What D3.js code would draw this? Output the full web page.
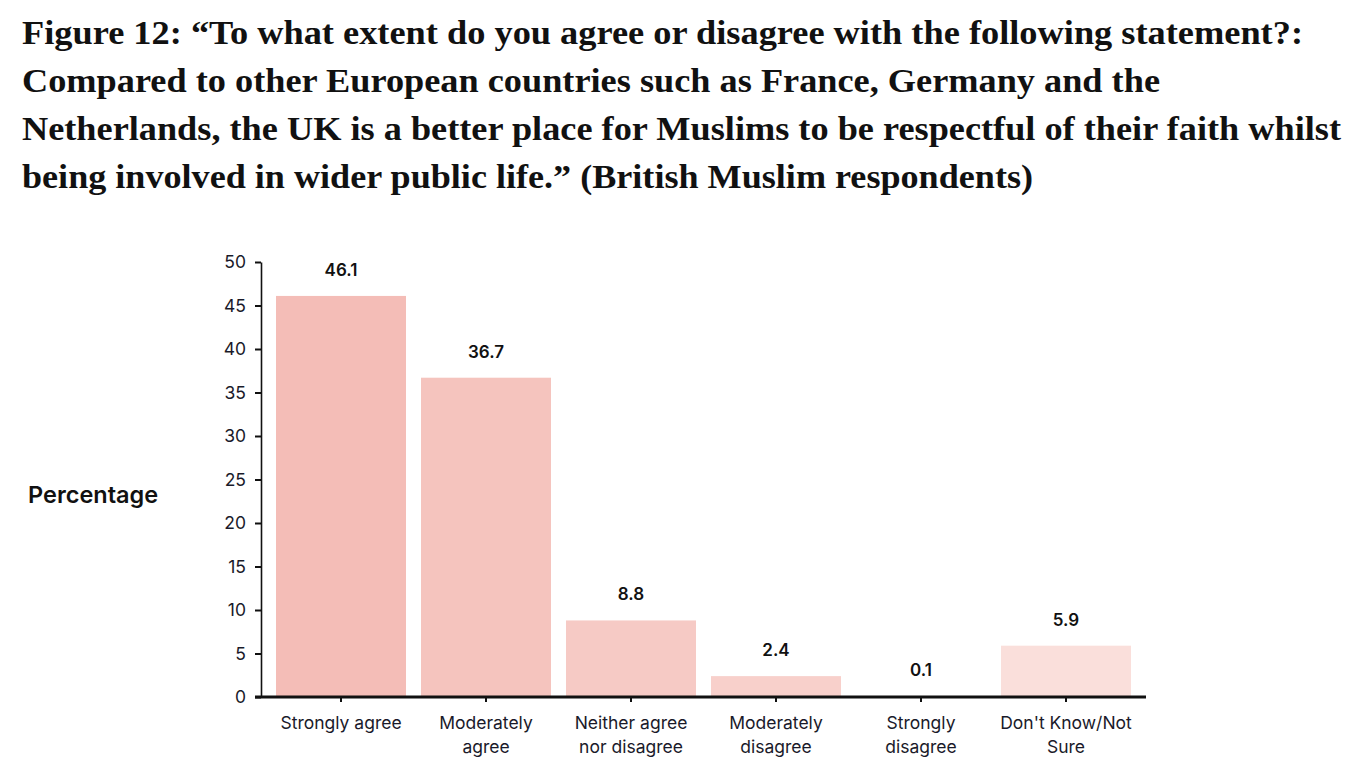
<!DOCTYPE html>
<html><head><meta charset="utf-8">
<script src="https://cdn.jsdelivr.net/npm/d3@7"></script>
<style>
html,body{margin:0;padding:0;background:#fff;}
svg{display:block;}
</style></head>
<body>
<svg id="chart" width="1364" height="768"></svg>
<script>
const titleLines = [
  "Figure 12: \u201CTo what extent do you agree or disagree with the following statement?:",
  "Compared to other European countries such as France, Germany and the",
  "Netherlands, the UK is a better place for Muslims to be respectful of their faith whilst",
  "being involved in wider public life.\u201D (British Muslim respondents)"
];
const titleWidths = [1281, 1138, 1319, 1011];
const categories = [
  ["Strongly agree"],
  ["Moderately", "agree"],
  ["Neither agree", "nor disagree"],
  ["Moderately", "disagree"],
  ["Strongly", "disagree"],
  ["Don't Know/Not", "Sure"]
];
const values = [46.1, 36.7, 8.8, 2.4, 0.1, 5.9];
const barColors = ["#f4bdb7", "#f5c4be", "#f6cac5", "#f8d0cb", "#f9d7d2", "#fadfdb"];
const yTicks = [0, 5, 10, 15, 20, 25, 30, 35, 40, 45, 50];
const yLabel = "Percentage";

const svg = d3.select("#chart");
const sans = "Inter, 'Noto Sans', sans-serif";

// title
const t = svg.append("g");
titleLines.forEach((line, i) => {
  t.append("text")
    .attr("x", 22).attr("y", 44 + i * 48)
    .attr("font-family", "'Liberation Serif', 'DejaVu Serif', serif")
    .attr("font-weight", "bold")
    .attr("font-size", 34)
    .attr("fill", "#111")
    .attr("textLength", titleWidths[i])
    .attr("lengthAdjust", "spacingAndGlyphs")
    .text(line);
});

const x = d3.scaleBand()
  .domain(categories.map((d, i) => i))
  .range([268.5, 1138.5])
  .paddingInner(15 / 145)
  .paddingOuter(15 / 145 / 2);
const y = d3.scaleLinear().domain([0, 50]).range([697, 262]);

// bars
svg.append("g").selectAll("rect").data(values).join("rect")
  .attr("x", (d, i) => x(i))
  .attr("width", x.bandwidth())
  .attr("y", d => y(d))
  .attr("height", d => y(0) - y(d))
  .attr("fill", (d, i) => barColors[i]);

// value labels
svg.append("g").selectAll("text").data(values).join("text")
  .attr("x", (d, i) => x(i) + x.bandwidth() / 2)
  .attr("y", d => y(d) - 20)
  .attr("text-anchor", "middle")
  .attr("font-family", sans)
  .attr("font-weight", 600)
  .attr("font-size", 17)
  .attr("fill", "#111")
  .text(d => d.toFixed(1));

// y axis
const yAxis = svg.append("g").attr("transform", "translate(261,0)")
  .call(d3.axisLeft(y).tickValues(yTicks).tickSize(6).tickSizeOuter(0).tickPadding(9));
yAxis.select(".domain").attr("stroke", "#111").attr("stroke-width", 1.6);
yAxis.selectAll(".tick line").attr("stroke", "#111").attr("stroke-width", 2);
yAxis.selectAll(".tick text")
  .attr("font-family", sans).attr("font-size", 17.5).attr("fill", "#1a1a2a");

// x axis
const xAxis = svg.append("g").attr("transform", "translate(0,697)")
  .call(d3.axisBottom(x).tickSize(5).tickSizeOuter(0).tickFormat(""));
xAxis.select(".domain").remove();
xAxis.selectAll(".tick line").attr("stroke", "#111").attr("stroke-width", 2);
xAxis.append("line")
  .attr("x1", 255).attr("x2", 1146).attr("y1", 0).attr("y2", 0)
  .attr("stroke", "#111").attr("stroke-width", 3);
xAxis.selectAll(".tick").each(function(d) {
  const g = d3.select(this);
  categories[d].forEach((ln, j) => {
    g.append("text")
      .attr("x", 0).attr("y", 32 + j * 24)
      .attr("text-anchor", "middle")
      .attr("font-family", sans).attr("font-size", 17.5)
      .attr("fill", "#1a1a2a")
      .text(ln);
  });
});

// y label
svg.append("text")
  .attr("x", 28).attr("y", 503)
  .attr("font-family", sans).attr("font-weight", 600)
  .attr("font-size", 23.5).attr("fill", "#111")
  .text(yLabel);
</script>
</body></html>
